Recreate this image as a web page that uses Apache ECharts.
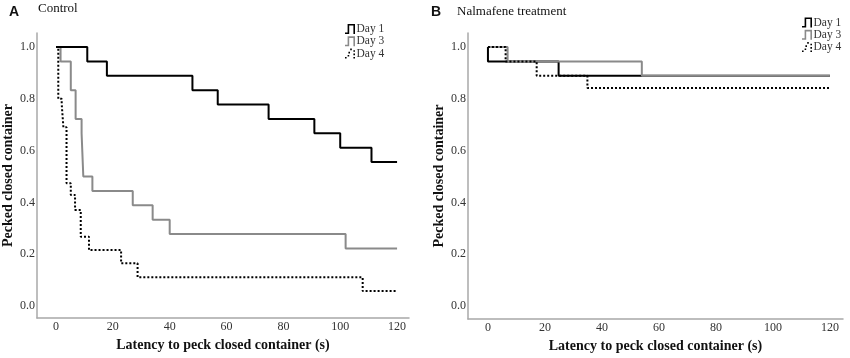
<!DOCTYPE html>
<html><head><meta charset="utf-8">
<script src="https://cdn.jsdelivr.net/npm/echarts@6/dist/echarts.min.js"></script>
<style>html,body{margin:0;padding:0;background:#fff}#c{width:850px;height:358px}</style>
</head><body><div id="c"></div>
<script>
// ---- data ----
const xTicks = [0, 20, 40, 60, 80, 100, 120];
const yTicks = [0, 0.2, 0.4, 0.6, 0.8, 1.0];
const seriesNames = ['Day 1', 'Day 3', 'Day 4'];

// Panel A: Control (time s, proportion)
const ctrlDay1T = [0, 11, 17.9, 48, 56.9, 74.8, 90.9, 100, 111, 120];
const ctrlDay1V = [1, 0.944, 0.889, 0.833, 0.778, 0.722, 0.667, 0.611, 0.556, 0.556];
const ctrlDay3T = [0, 1.6, 5.2, 6.9, 9.0, 9.6, 12.8, 27, 34, 40, 101.9, 120];
const ctrlDay3V = [1, 0.944, 0.833, 0.722, 0.667, 0.5, 0.444, 0.389, 0.333, 0.278, 0.222, 0.222];
const ctrlDay4T = [0, 0.8, 2.0, 2.6, 3.7, 5.2, 6.7, 8.7, 11.6, 22.9, 28.7, 107.9, 120];
const ctrlDay4V = [1, 0.80, 0.78, 0.69, 0.474, 0.429, 0.371, 0.268, 0.216, 0.165, 0.111, 0.058, 0.058];

// Panel B: Nalmafene treatment
const nalDay1T = [0, 0, 24.8, 120];
const nalDay1V = [1, 0.944, 0.889, 0.889];
const nalDay3T = [0, 6.9, 54, 120];
const nalDay3V = [1, 0.944, 0.889, 0.889];
const nalDay4T = [0, 6.2, 17.1, 34.9, 120];
const nalDay4V = [1, 0.944, 0.889, 0.842, 0.842];

// ---- build ----
const zip = (t, v) => t.map((x, i) => [x, v[i]]);
const serif = "'Liberation Serif','Times New Roman',serif";
const sans = "'Liberation Sans',Arial,sans-serif";

function xAxisFor(gi, min, max) {
  return {
    type: 'value', gridIndex: gi, min: min, max: max,
    name: 'Latency to peck closed container (s)', nameLocation: 'middle', nameGap: 20,
    nameTextStyle: { fontFamily: serif, fontWeight: 'bold', fontSize: 14, color: '#111' },
    axisLine: { show: true, onZero: false, lineStyle: { color: '#a8a8a8', width: 1.5 } },
    axisTick: { show: false },
    splitLine: { show: false },
    axisLabel: { customValues: xTicks, margin: 3, fontFamily: serif, fontSize: 12, color: '#333',
      formatter: v => String(Math.round(v)) }
  };
}
function yAxisFor(gi, min, max) {
  return {
    type: 'value', gridIndex: gi, min: min, max: max,
    name: 'Pecked closed container', nameLocation: 'middle', nameGap: 22,
    nameTextStyle: { fontFamily: serif, fontWeight: 'bold', fontSize: 14, color: '#111' },
    axisLine: { show: true, onZero: false, lineStyle: { color: '#a8a8a8', width: 1.5 } },
    axisTick: { show: false },
    splitLine: { show: false },
    axisLabel: { customValues: yTicks, margin: 2, fontFamily: serif, fontSize: 12, color: '#333',
      formatter: v => v.toFixed(1) }
  };
}
const styles = [
  { color: '#000', width: 2, type: 'solid' },
  { color: '#8a8a8a', width: 2, type: 'solid' },
  { color: '#000', width: 2, type: [2, 2] }
];
const zA = [4, 2, 3];
const zB = [2, 3, 4];
function mk(name, idx, gi, t, v) {
  const s = styles[idx];
  return {
    name: name, type: 'line', step: 'end', xAxisIndex: gi, yAxisIndex: gi,
    data: zip(t, v), symbol: 'none', z: (gi === 0 ? zA : zB)[idx], animation: false,
    itemStyle: { color: s.color },
    lineStyle: { color: s.color, width: s.width, type: s.type }
  };
}
const iconSolid = 'path://M0,10 L0,8.4 L2.6,8.4 L2.6,0 L10,0 L10,10 L8.4,10 L8.4,1.6 L4.2,1.6 L4.2,10 Z';
const iconDot = 'path://M0,8.4h1.6v1.6h-1.6z M2.6,6.4h1.6v1.6h-1.6z M3.4,3.2h1.6v1.6h-1.6z M5.2,0h1.6v1.6h-1.6z M8.4,1.6h1.6v1.6h-1.6z M8.4,5h1.6v1.6h-1.6z M8.4,8.4h1.6v1.6h-1.6z';
function legendAt(left, top) {
  return {
    orient: 'vertical', left: left, top: top, padding: 0,
    itemWidth: 11, itemHeight: 10, itemGap: 0.3, selectedMode: false,
    textStyle: { fontFamily: serif, fontSize: 11.5, color: '#333', padding: [0, 0, 0, -4] },
    data: [
      { name: seriesNames[0], icon: iconSolid },
      { name: seriesNames[1], icon: iconSolid },
      { name: seriesNames[2], icon: iconDot }
    ]
  };
}

const chart = echarts.init(document.getElementById('c'), null, { renderer: 'canvas' });
chart.setOption({
  backgroundColor: '#fff',
  animation: false,
  grid: [
    { left: 37, top: 33, width: 372, height: 285 },
    { left: 468, top: 33, width: 375, height: 286 }
  ],
  xAxis: [xAxisFor(0, -6.69, 124.2), xAxisFor(1, -7.0, 124.6)],
  yAxis: [yAxisFor(0, -0.046, 1.054), yAxisFor(1, -0.05, 1.054)],
  legend: [legendAt(345, 23), legendAt(802, 16.5)],
  graphic: [
    { type: 'text', left: 9, top: 5, style: { text: 'A', font: 'bold 14px ' + sans, fill: '#111' } },
    { type: 'text', left: 38, top: 2, style: { text: 'Control', font: '13px ' + serif, fill: '#111' } },
    { type: 'text', left: 431, top: 5, style: { text: 'B', font: 'bold 14px ' + sans, fill: '#111' } },
    { type: 'text', left: 457, top: 5, style: { text: 'Nalmafene treatment', font: '13px ' + serif, fill: '#111' } }
  ],
  series: [
    mk(seriesNames[0], 0, 0, ctrlDay1T, ctrlDay1V),
    mk(seriesNames[1], 1, 0, ctrlDay3T, ctrlDay3V),
    mk(seriesNames[2], 2, 0, ctrlDay4T, ctrlDay4V),
    mk(seriesNames[0], 0, 1, nalDay1T, nalDay1V),
    mk(seriesNames[1], 1, 1, nalDay3T, nalDay3V),
    mk(seriesNames[2], 2, 1, nalDay4T, nalDay4V)
  ]
});
</script></body></html>
